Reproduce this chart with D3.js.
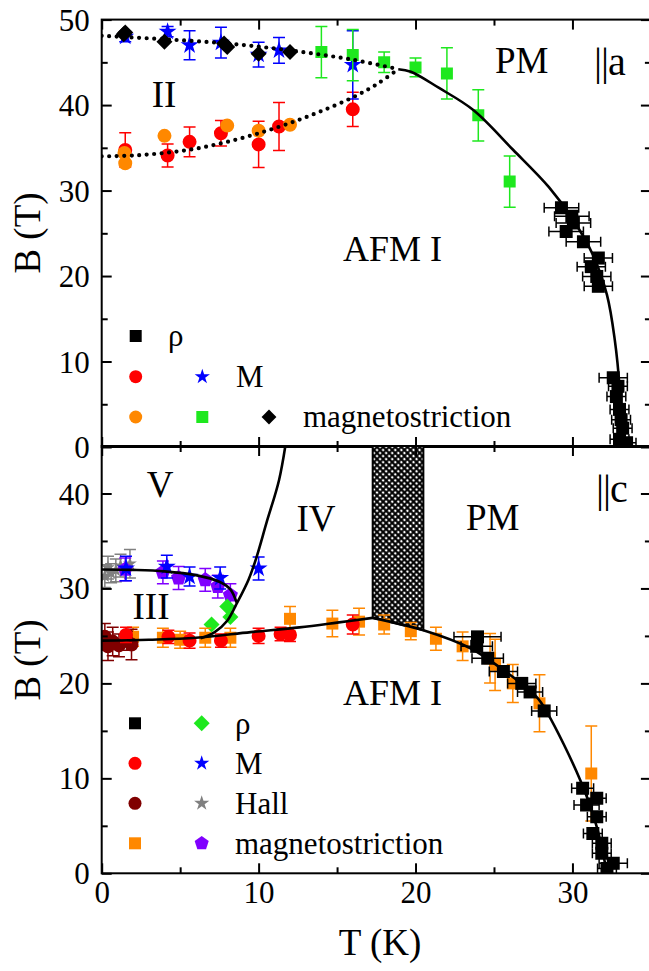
<!DOCTYPE html>
<html>
<head>
<meta charset="utf-8">
<script src="https://cdn.jsdelivr.net/npm/d3@7"></script>
<style>
  body { margin: 0; background: #fff; }
</style>
</head>
<body>
<svg width="649" height="971" font-family="'Liberation Serif', 'DejaVu Serif', serif"></svg>
<script>
// ---------- data: top panel (B || a) ----------
// [T, B, dB]
const topRhoBlack = [ // [T, B, dT]
  [29.3, 28.0, 1.1], [29.96, 27.0, 1.1], [30.06, 26.2, 1.1], [29.6, 25.2, 1.1], [30.7, 24.0, 1.1],
  [31.65, 22.1, 0.9], [31.2, 21.1, 0.9], [31.55, 19.95, 0.9], [31.65, 18.8, 0.9],
  [32.6, 8.1, 0.9], [32.9, 7.1, 0.6], [32.8, 5.9, 0.6], [33.0, 4.4, 0.6], [33.1, 3.2, 0.6],
  [33.2, 2.2, 0.6], [33.0, 0.9, 0.6], [33.45, 0.5, 0.6]
];
const topMRed = [
  [1.5, 34.75, 2.0], [4.2, 34.1, 1.35], [5.6, 35.7, 1.75], [7.6, 36.7, 1.5],
  [10.0, 35.4, 2.7], [11.3, 37.5, 2.8], [16.0, 39.5, 2.0]
];
const topMBlue = [
  [1.5, 48.0, 0.6], [4.2, 48.6, 0.6], [5.6, 47.0, 1.7], [7.6, 47.3, 1.8],
  [10.0, 45.9, 1.45], [11.3, 46.4, 1.5], [16.0, 44.7, 4.0]
];
const topMsOrange = [
  [1.45, 34.4], [1.5, 33.2], [4.0, 36.4], [8.0, 37.6], [10.0, 37.0], [12.0, 37.7]
];
const topMsGreen = [
  [14.0, 46.2, 3.0], [16.0, 45.85, 3.0], [18.0, 45.0, 1.2], [20.0, 44.4, 1.1],
  [22.0, 43.7, 3.0], [24.0, 38.8, 3.0], [26.0, 31.05, 3.0]
];
const topMsDiamond = [
  [1.4, 48.3], [1.5, 48.5], [4.0, 47.4], [7.8, 47.2], [8.0, 46.8], [10.0, 46.0], [12.0, 46.2]
];
const topUpperDotted = [[0, 48.1], [4, 47.7], [8, 47.2], [12, 46.4], [16, 45.3], [18.9, 44.2]];
const topLowerDotted = [[0, 34.0], [2, 34.1], [4, 34.4], [6, 34.9], [8, 35.7], [10, 36.7],
  [12, 37.9], [14, 39.3], [16, 40.9], [17.5, 42.4], [18.9, 44.2]];
const topSolid = [[18.9, 44.2], [19.7, 43.9], [21.5, 42.0], [23.7, 39.4], [26.2, 34.8], [28.5, 30.4],
  [30.0, 26.7], [31.3, 22.5], [32.2, 17.8], [32.7, 12.5], [33.0, 7.0], [33.15, 0]];

// ---------- data: bottom panel (B || c) ----------
const botRhoBlack = [ // [T, B, dT]
  [23.95, 24.9, 1.5], [23.9, 23.9, 1.0], [24.6, 22.65, 1.0], [25.6, 21.25, 0.9], [26.77, 20.0, 0.9],
  [27.3, 19.1, 0.8], [28.2, 17.1, 0.8], [30.65, 8.95, 0.7], [30.9, 7.2, 0.8], [31.55, 7.9, 0.6],
  [31.55, 5.96, 0.6], [31.3, 4.2, 0.6], [31.87, 3.16, 0.6], [31.87, 2.1, 0.6], [32.6, 1.05, 0.9], [32.2, 0.5, 0.6]
];
const botRhoGreen = [[7.0, 26.2], [8.0, 28.1], [8.2, 27.0]];
const botMRed = [
  [1.55, 25.1, 0.8], [4.25, 24.9, 0.7], [5.6, 24.5, 0.8], [7.6, 24.5, 0.7],
  [10.0, 25.0, 0.8], [11.4, 25.2, 0.7], [12.0, 25.1, 0.7], [16.0, 26.2, 1.0]
];
const botMBlue = [[1.55, 32.1, 1.3], [4.15, 32.3, 1.2], [5.6, 31.25, 1.0], [7.55, 31.1, 1.15], [10.0, 32.1, 1.2]];
const botHallDark = [[0.2, 24.9, 1.4], [0.4, 23.9, 1.5], [0.7, 24.4, 1.5], [1.1, 24.0, 1.2], [1.6, 24.5, 1.0], [1.9, 24.1, 1.6]];
const botHallGray = [[0.2, 31.3, 1.2], [0.4, 32.2, 1.2], [0.6, 31.6, 1.0], [0.9, 31.9, 1.2], [1.2, 32.4, 1.2], [1.8, 32.6, 1.5]];
const botMsOrange = [
  [2.0, 24.9, 1.0], [3.9, 24.8, 1.0], [5.0, 24.6, 0.9], [6.6, 24.8, 1.0], [8.2, 24.8, 1.0],
  [12.0, 26.8, 1.3], [14.7, 26.3, 1.4], [16.4, 26.5, 1.4], [18.0, 26.2, 1.0], [19.7, 25.5, 0.9],
  [21.3, 24.7, 1.2], [23.0, 23.9, 1.5], [24.75, 22.65, 2.6], [25.07, 21.95, 2.7], [26.2, 20.0, 2.0],
  [27.9, 17.9, 3.0], [31.2, 10.5, 5.0]
];
const botMsPurple = [[1.5, 32.0, 1.2], [3.9, 31.7, 1.2], [4.9, 31.1, 1.2], [6.6, 30.9, 1.2], [7.4, 30.2, 1.2], [8.2, 29.3, 1.2]];
const botLowerLeft = [[0, 24.5], [3, 24.6], [6, 24.8], [9.5, 25.4], [12.6, 25.9], [15, 26.4], [17.27, 26.9]];
const botLowerRight = [[17.27, 26.9], [20.5, 25.6], [23.5, 23.7], [25.6, 21.4], [27.7, 18.6], [28.4, 16.9],
  [30.5, 9.8], [31.55, 4.9], [32.2, 0]];
const botUpper = [[0, 32.0], [2, 31.95], [4, 31.8], [6, 31.4], [7.5, 30.7], [8.2, 29.9], [8.6, 28.5]];
const botSteep = [[6.3, 24.75], [7.2, 25.4], [8.0, 26.6], [8.6, 28.4], [9.35, 30.9], [9.85, 33.2],
  [10.5, 36.9], [11.3, 41.4], [11.75, 45.5]];
const botHatch = [[17.27, 45], [20.5, 45], [20.5, 25.6], [17.27, 26.9]];

const xTicks = [0, 10, 20, 30];
const xMinor = [5, 15, 25, 35];
const topYTicks = [0, 10, 20, 30, 40, 50];
const topYMinor = [5, 15, 25, 35, 45];
const botYTicks = [0, 10, 20, 30, 40];
const botYMinor = [5, 15, 25, 35, 45];
const topLegendLabels = ["ρ", "M", "magnetostriction"];
const botLegendLabels = ["ρ", "M", "Hall", "magnetostriction"];

// ---------- setup ----------
const FONT = "'Liberation Serif', 'DejaVu Serif', serif";
const svg = d3.select("svg");
const x = d3.scaleLinear().domain([0, 35]).range([101.7, 650.9]);
const yTop = d3.scaleLinear().domain([0, 50]).range([447, 19.6]);
const yBot = d3.scaleLinear().domain([0, 45]).range([873.3, 446]);

const defs = svg.append("defs");
const pat = defs.append("pattern").attr("id", "hatch")
  .attr("patternUnits", "userSpaceOnUse").attr("width", 4.3).attr("height", 4.3)
  .attr("patternTransform", "rotate(45)");
pat.append("rect").attr("width", 4.3).attr("height", 4.3).attr("fill", "#fff");
pat.append("path").attr("d", "M0,2.15H4.3M2.15,0V4.3").attr("stroke", "#000").attr("stroke-width", 2);

[["clipTop", yTop], ["clipBot", yBot]].forEach(([id, y]) => {
  defs.append("clipPath").attr("id", id).append("rect")
    .attr("x", x(0)).attr("y", y.range()[1])
    .attr("width", x(35) - x(0)).attr("height", y.range()[0] - y.range()[1]);
});

// custom symbols
const symbolRhomb = {
  draw(ctx, size) {
    const r = Math.sqrt(size / 2);
    ctx.moveTo(0, -r); ctx.lineTo(r, 0); ctx.lineTo(0, r); ctx.lineTo(-r, 0); ctx.closePath();
  }
};
const symbolPentagon = {
  draw(ctx, size) {
    const r = Math.sqrt(size / 2.378);
    for (let i = 0; i < 5; i++) {
      const a = -Math.PI / 2 + i * 2 * Math.PI / 5;
      if (i === 0) ctx.moveTo(r * Math.cos(a), r * Math.sin(a));
      else ctx.lineTo(r * Math.cos(a), r * Math.sin(a));
    }
    ctx.closePath();
  }
};

function errY(g, y, data, color) {
  g.selectAll(null).data(data.filter(d => d[2] != null)).enter().append("path")
    .attr("d", d => {
      const xx = x(d[0]), y1 = y(d[1] + d[2]), y2 = y(d[1] - d[2]);
      return `M${xx},${y1}V${y2}M${xx - 6},${y1}h12M${xx - 6},${y2}h12`;
    })
    .attr("fill", "none").attr("stroke", color).attr("stroke-width", 1.5);
}
function errX(g, y, data, color) {
  g.selectAll(null).data(data).enter().append("path")
    .attr("d", d => {
      const yy = y(d[1]), x1 = x(d[0] - d[2]), x2 = x(d[0] + d[2]);
      return `M${x1},${yy}H${x2}M${x1},${yy - 5}v10M${x2},${yy - 5}v10`;
    })
    .attr("fill", "none").attr("stroke", color).attr("stroke-width", 1.5);
}
function marks(g, y, data, type, size, color) {
  g.selectAll(null).data(data).enter().append("path")
    .attr("transform", d => `translate(${x(d[0])},${y(d[1])})`)
    .attr("d", d3.symbol().type(type).size(size))
    .attr("fill", color);
}
function curve(g, y, pts, dotted) {
  const line = d3.line().x(d => x(d[0])).y(d => y(d[1])).curve(d3.curveCatmullRom);
  const p = g.append("path").attr("d", line(pts)).attr("fill", "none").attr("stroke", "#000");
  if (dotted) p.attr("stroke-width", 4.2).attr("stroke-linecap", "round").attr("stroke-dasharray", "0 7.5");
  else p.attr("stroke-width", 2.6);
}

function frame(y, yMajor, yMinor, labelsX) {
  const g = svg.append("g");
  const top = y.range()[1], bottom = y.range()[0];
  const style = a => a.attr("font-size", 31).attr("font-family", FONT)
    .call(s => s.select(".domain").remove())
    .call(s => s.selectAll("line").attr("stroke-width", 2))
    .call(s => s.selectAll("text").attr("fill", "#000"));
  g.append("g").attr("transform", `translate(${x(0)},0)`)
    .call(d3.axisLeft(y).tickValues(yMajor).tickSizeInner(-10).tickSizeOuter(0).tickPadding(12)).call(style)
    .selectAll("text").attr("dy", "0.34em");
  g.append("g").attr("transform", `translate(${x(0)},0)`)
    .call(d3.axisLeft(y).tickValues(yMinor).tickSize(-6).tickFormat("")).call(style);
  g.append("g").attr("transform", `translate(${x(35)},0)`)
    .call(d3.axisRight(y).tickValues(yMajor).tickSize(-10).tickFormat("")).call(style);
  g.append("g").attr("transform", `translate(${x(35)},0)`)
    .call(d3.axisRight(y).tickValues(yMinor).tickSize(-6).tickFormat("")).call(style);
  g.append("g").attr("transform", `translate(0,${bottom})`)
    .call(d3.axisBottom(x).tickValues(xTicks).tickSize(-10).tickPadding(8)
      .tickFormat(labelsX ? d3.format("d") : "")).call(style);
  g.append("g").attr("transform", `translate(0,${bottom})`)
    .call(d3.axisBottom(x).tickValues(xMinor).tickSize(-6).tickFormat("")).call(style);
  g.append("g").attr("transform", `translate(0,${top})`)
    .call(d3.axisTop(x).tickValues(xTicks).tickSize(-10).tickFormat("")).call(style);
  g.append("g").attr("transform", `translate(0,${top})`)
    .call(d3.axisTop(x).tickValues(xMinor).tickSize(-6).tickFormat("")).call(style);
  g.append("rect").attr("x", x(0)).attr("y", top).attr("width", x(35) - x(0)).attr("height", bottom - top)
    .attr("fill", "none").attr("stroke", "#000").attr("stroke-width", 2);
}

function label(txt, px, py, size, anchor) {
  return svg.append("text").attr("x", px).attr("y", py).attr("font-size", size)
    .attr("font-family", FONT).attr("text-anchor", anchor || "start").text(txt);
}
const legendMark = (g, px, py, type, size, color) =>
  g.append("path").attr("transform", `translate(${px},${py})`)
    .attr("d", d3.symbol().type(type).size(size)).attr("fill", color);

// ---------- top panel ----------
const gt = svg.append("g").attr("clip-path", "url(#clipTop)");
errY(gt, yTop, topMRed, "#ff0000");
marks(gt, yTop, topMRed, d3.symbolCircle, 154, "#ff0000");
marks(gt, yTop, topMsOrange, d3.symbolCircle, 154, "#ff8800");
errY(gt, yTop, topMBlue, "#0000ff");
marks(gt, yTop, topMBlue, d3.symbolStar, 100, "#0000ff");
errY(gt, yTop, topMsGreen, "#1ee81e");
marks(gt, yTop, topMsGreen, d3.symbolSquare, 144, "#1ee81e");
marks(gt, yTop, topMsDiamond, symbolRhomb, 128, "#000");
errX(gt, yTop, topRhoBlack, "#000");
marks(gt, yTop, topRhoBlack, d3.symbolSquare, 169, "#000");
curve(gt, yTop, topUpperDotted, true);
curve(gt, yTop, topLowerDotted, true);
curve(gt, yTop, topSolid, false);
frame(yTop, topYTicks, topYMinor, false);

label("PM", 495, 73, 37);
label("||a", 594, 75, 40).attr("letter-spacing", "-1");
label("II", 164, 107, 37, "middle");
label("AFM I", 343, 261, 36);

// top legend
const tl = svg.append("g");
legendMark(tl, 135.7, 336, d3.symbolSquare, 144, "#000");
legendMark(tl, 135.7, 376.7, d3.symbolCircle, 133, "#ff0000");
legendMark(tl, 202.3, 376.7, d3.symbolStar, 72, "#0000ff");
legendMark(tl, 135.7, 417, d3.symbolCircle, 133, "#ff8800");
legendMark(tl, 202.3, 417, d3.symbolSquare, 144, "#1ee81e");
legendMark(tl, 269, 417, symbolRhomb, 110, "#000");
label(topLegendLabels[0], 168, 346, 31);
label(topLegendLabels[1], 236, 387, 31);
label(topLegendLabels[2], 303, 427, 31);

// ---------- bottom panel ----------
const gb = svg.append("g").attr("clip-path", "url(#clipBot)");
gb.append("path")
  .attr("d", d3.line().x(d => x(d[0])).y(d => yBot(d[1]))(botHatch) + "Z")
  .attr("fill", "url(#hatch)").attr("stroke", "#000").attr("stroke-width", 2);
errY(gb, yBot, botHallGray, "#808080");
marks(gb, yBot, botHallGray, d3.symbolStar, 60, "#808080");
errY(gb, yBot, botMsPurple, "#8000ff");
marks(gb, yBot, botMsPurple, symbolPentagon, 150, "#8000ff");
errY(gb, yBot, botMBlue, "#0000ff");
marks(gb, yBot, botMBlue, d3.symbolStar, 100, "#0000ff");
marks(gb, yBot, botRhoGreen, symbolRhomb, 128, "#1ee81e");
errY(gb, yBot, botMsOrange, "#ff8800");
marks(gb, yBot, botMsOrange, d3.symbolSquare, 144, "#ff8800");
errY(gb, yBot, botHallDark, "#800000");
marks(gb, yBot, botHallDark, d3.symbolCircle, 154, "#800000");
errY(gb, yBot, botMRed, "#ff0000");
marks(gb, yBot, botMRed, d3.symbolCircle, 154, "#ff0000");
errX(gb, yBot, botRhoBlack, "#000");
marks(gb, yBot, botRhoBlack, d3.symbolSquare, 169, "#000");
curve(gb, yBot, botLowerLeft, false);
curve(gb, yBot, botLowerRight, false);
curve(gb, yBot, botUpper, false);
curve(gb, yBot, botSteep, false);
frame(yBot, botYTicks, botYMinor, true);

label("V", 160, 497, 37, "middle");
label("III", 151, 619, 37, "middle");
label("IV", 316, 531, 37, "middle");
label("PM", 466, 530, 37);
label("||c", 596, 502, 40).attr("letter-spacing", "-1");
label("AFM I", 343, 705, 36);

// bottom legend
const bl = svg.append("g");
legendMark(bl, 135, 723.3, d3.symbolSquare, 144, "#000");
legendMark(bl, 201.7, 723.3, symbolRhomb, 128, "#1ee81e");
legendMark(bl, 135, 763.3, d3.symbolCircle, 133, "#ff0000");
legendMark(bl, 201.7, 763.3, d3.symbolStar, 72, "#0000ff");
legendMark(bl, 135, 803.3, d3.symbolCircle, 133, "#800000");
legendMark(bl, 201.7, 803.3, d3.symbolStar, 72, "#808080");
legendMark(bl, 135, 843.3, d3.symbolSquare, 144, "#ff8800");
legendMark(bl, 201.7, 843.3, symbolPentagon, 130, "#8000ff");
botLegendLabels.forEach((t, i) => label(t, 235, 733.5 + i * 40, 31));

// axis titles
svg.append("text").attr("transform", "translate(40,233) rotate(-90)").attr("font-family", FONT)
  .attr("text-anchor", "middle").attr("font-size", 37).text("B (T)");
svg.append("text").attr("transform", "translate(40,660) rotate(-90)").attr("font-family", FONT)
  .attr("text-anchor", "middle").attr("font-size", 37).text("B (T)");
label("T (K)", 380, 955, 37, "middle");
</script>
</body>
</html>
